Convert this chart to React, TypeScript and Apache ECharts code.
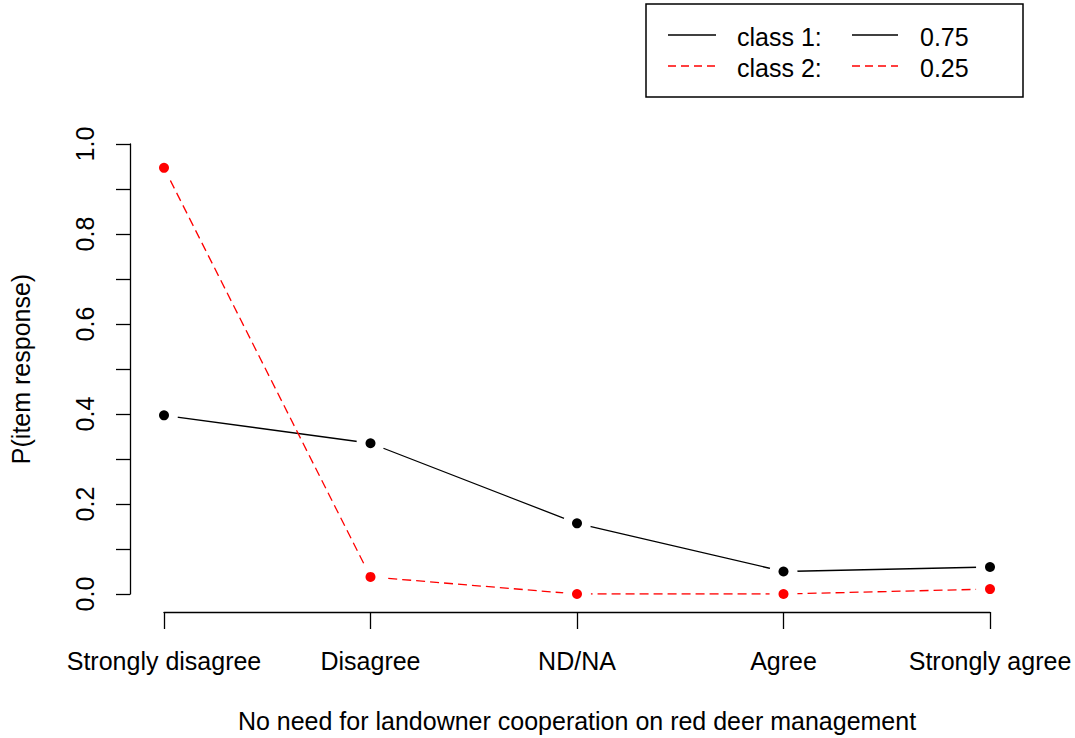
import React, { useEffect, useRef } from "react";
import * as echarts from "echarts";

// Response categories of the item
const categories = ["Strongly disagree", "Disagree", "ND/NA", "Agree", "Strongly agree"];

// Item-response probabilities for each latent class
const class1Values = [0.397, 0.335, 0.157, 0.05, 0.06];
const class2Values = [0.947, 0.038, 0.0, 0.0, 0.011];

// Class shares shown in the legend
const legendClasses = ["class 1:", "class 2:"];
const legendShares = ["0.75", "0.25"];

// Labelled y ticks
const yTickLabels = ["0.0", "0.2", "0.4", "0.6", "0.8", "1.0"];

const FONT = '"Liberation Sans", Arial, sans-serif';
const RED = "#ff0000";
const FS = 25;

export default function App() {
  const ref = useRef<HTMLDivElement>(null);

  useEffect(() => {
    if (!ref.current) return;
    const chart = echarts.init(ref.current, null, { renderer: "svg" });

    const legendRow = (i: number, y: number) => {
      const color = i === 0 ? "#000" : RED;
      const dash = i === 0 ? null : [8, 5];
      return [
        {
          type: "line",
          shape: { x1: 668, y1: y, x2: 716, y2: y },
          style: { stroke: color, lineWidth: 1.3, lineDash: dash },
        },
        {
          type: "text",
          x: 737,
          y: y + 2,
          style: { text: legendClasses[i], fontSize: FS, fontFamily: FONT, fill: "#000", verticalAlign: "middle" },
        },
        {
          type: "line",
          shape: { x1: 852, y1: y, x2: 898, y2: y },
          style: { stroke: color, lineWidth: 1.3, lineDash: dash },
        },
        {
          type: "text",
          x: 920,
          y: y + 2,
          style: { text: legendShares[i], fontSize: FS, fontFamily: FONT, fill: "#000", verticalAlign: "middle" },
        },
      ];
    };

    // white discs under the points leave a gap between each line and its points
    const gapSeries = (values: number[]) => ({
      type: "scatter",
      data: values,
      symbol: "circle",
      symbolSize: 28,
      itemStyle: { color: "#fff", opacity: 1 },
      silent: true,
      z: 2,
    });

    chart.setOption({
      animation: false,
      backgroundColor: "#fff",
      grid: { left: 164, right: 85, top: 144, bottom: 144, outerBoundsMode: "none", containLabel: false },
      xAxis: {
        type: "category",
        data: categories,
        boundaryGap: false,
        offset: 18,
        name: "No need for landowner cooperation on red deer management",
        nameLocation: "middle",
        nameGap: 96,
        nameTextStyle: { fontSize: FS, fontFamily: FONT, color: "#000" },
        axisLine: { show: true, onZero: false, lineStyle: { color: "#000", width: 1.3 } },
        axisTick: { show: true, length: 17, alignWithLabel: true, lineStyle: { color: "#000", width: 1.3 } },
        axisLabel: { fontSize: FS, fontFamily: FONT, color: "#000", margin: 36, interval: 0 },
        splitLine: { show: false },
      },
      yAxis: {
        type: "value",
        min: 0,
        max: 1,
        interval: 0.1,
        offset: 34,
        name: "P(item response)",
        nameLocation: "middle",
        nameGap: 97,
        nameRotate: 90,
        nameTextStyle: { fontSize: FS, fontFamily: FONT, color: "#000" },
        axisLine: { show: true, onZero: false, lineStyle: { color: "#000", width: 1.3 } },
        axisTick: { show: true, length: 14, lineStyle: { color: "#000", width: 1.3 } },
        axisLabel: {
          fontSize: FS,
          fontFamily: FONT,
          color: "#000",
          rotate: 90,
          margin: 33,
          formatter: (v: number) => {
            const k = Math.round(v * 10);
            return k % 2 === 0 ? yTickLabels[k / 2] : "";
          },
        },
        splitLine: { show: false },
      },
      series: [
        {
          name: "class 1 line",
          type: "line",
          data: class1Values,
          showSymbol: false,
          lineStyle: { color: "#000", width: 1.3 },
          z: 1,
        },
        {
          name: "class 2 line",
          type: "line",
          data: class2Values,
          showSymbol: false,
          lineStyle: { color: RED, width: 1.3, type: [9, 5] },
          z: 1,
        },
        gapSeries(class1Values),
        gapSeries(class2Values),
        {
          name: "class 1",
          type: "scatter",
          data: class1Values,
          symbol: "circle",
          symbolSize: 10,
          itemStyle: { color: "#000", opacity: 1 },
          z: 3,
        },
        {
          name: "class 2",
          type: "scatter",
          data: class2Values,
          symbol: "circle",
          symbolSize: 10,
          itemStyle: { color: RED, opacity: 1 },
          z: 3,
        },
      ],
      graphic: [
        {
          type: "rect",
          shape: { x: 646, y: 4, width: 377, height: 93 },
          style: { fill: "#fff", stroke: "#000", lineWidth: 1.5 },
        },
        ...legendRow(0, 35),
        ...legendRow(1, 66),
      ],
    });

    return () => chart.dispose();
  }, []);

  return (
    <div
      ref={ref}
      style={{ position: "fixed", left: 0, top: 0, width: 1075, height: 738, background: "#fff" }}
    />
  );
}
